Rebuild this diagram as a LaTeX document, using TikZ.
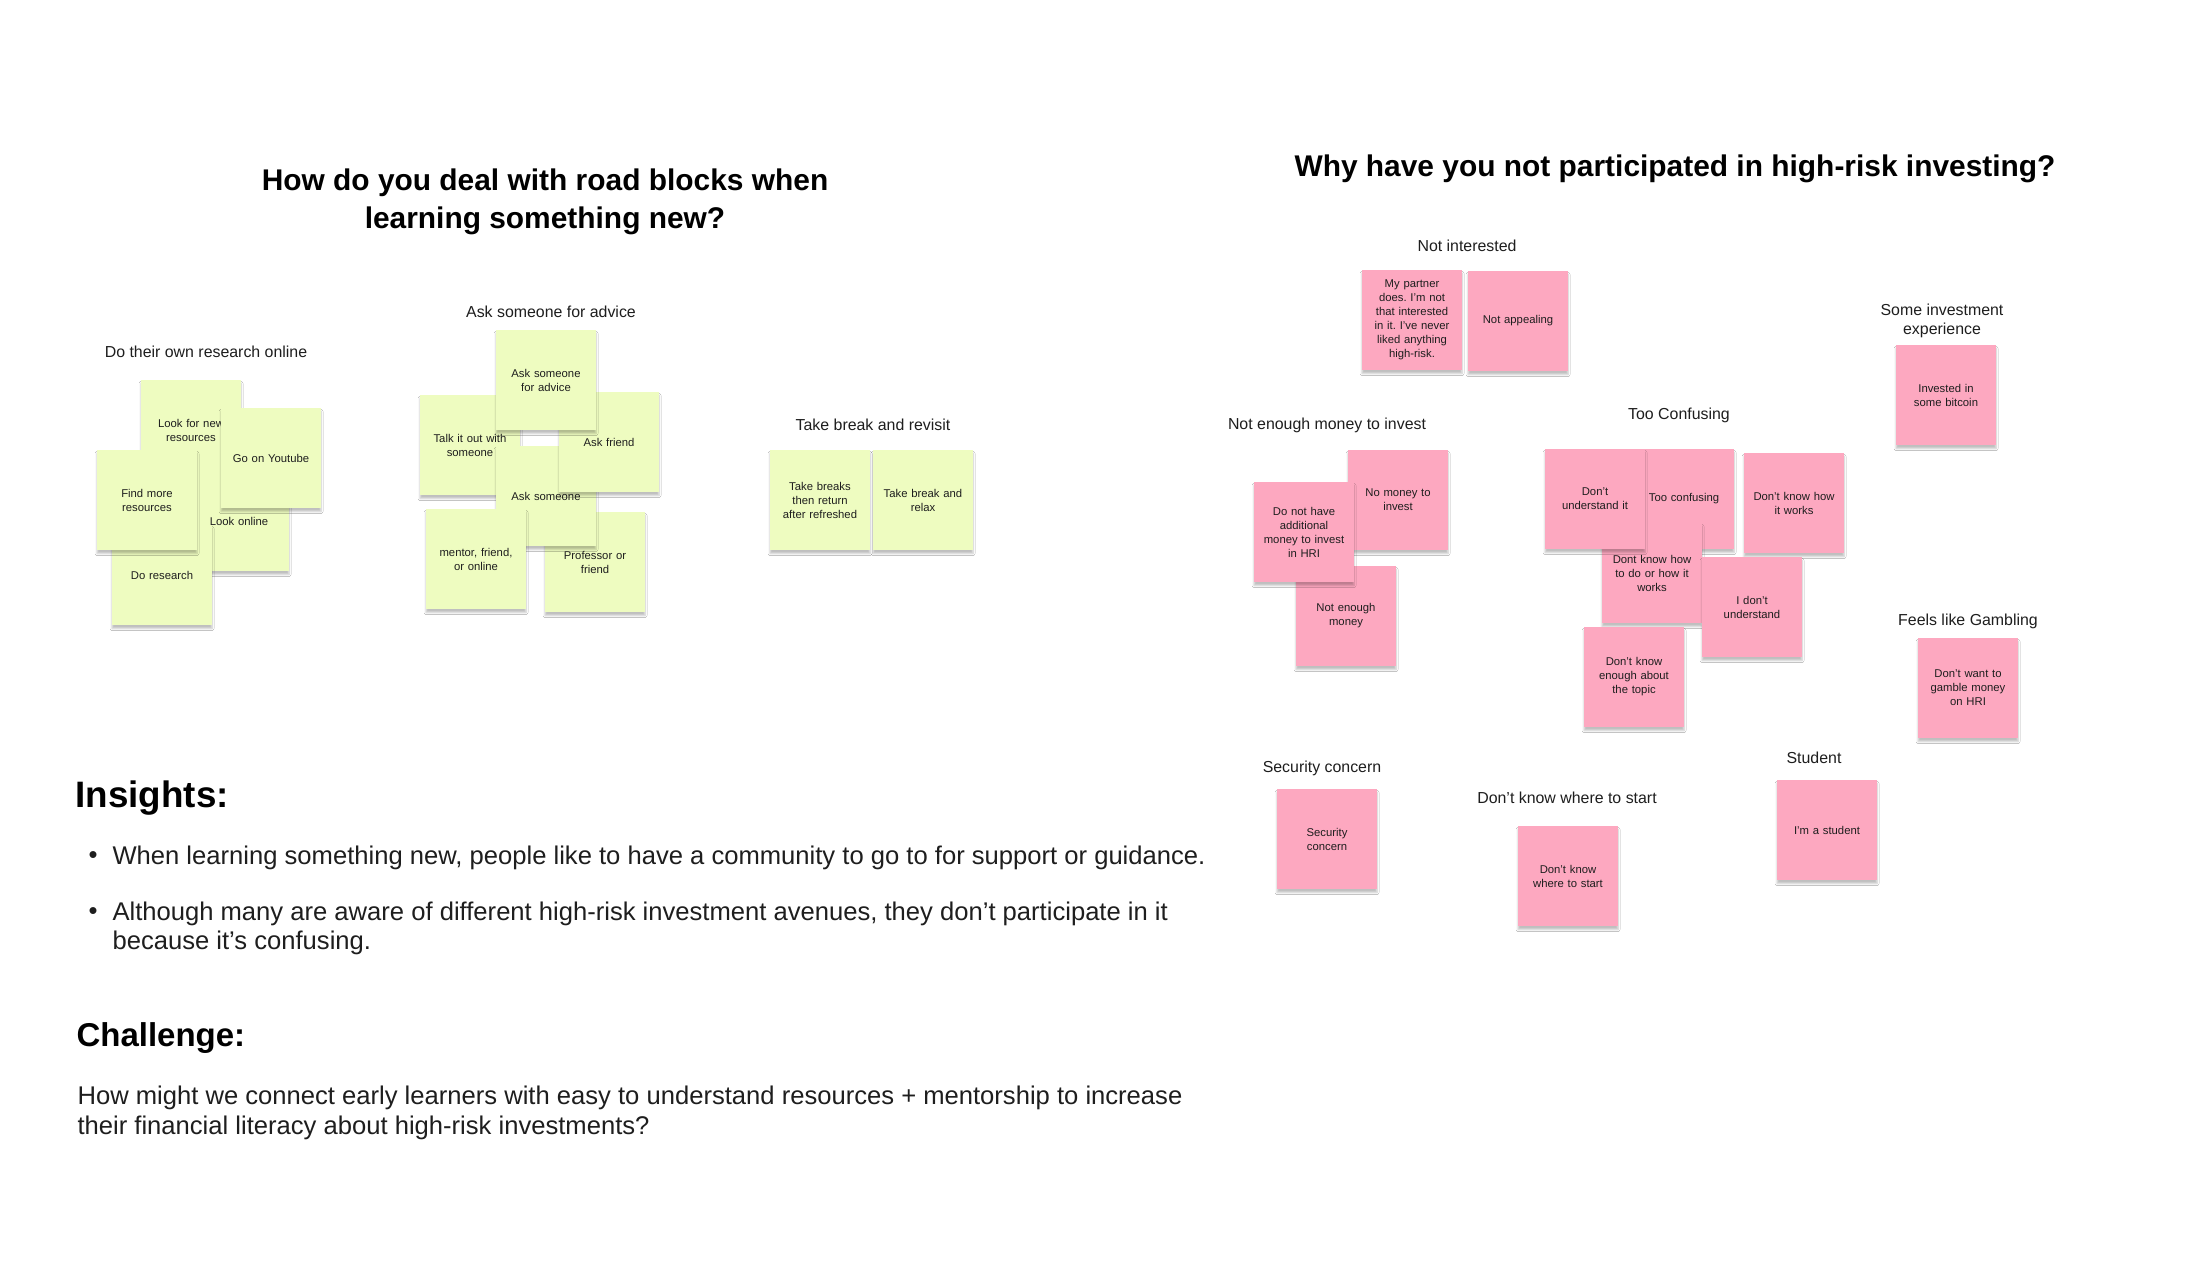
\documentclass[tikz,border=0pt]{standalone}
\usepackage{fontspec}
\setmainfont{Liberation Sans}
\usetikzlibrary{positioning,shadows.blur}
\frenchspacing

\definecolor{notegreen}{HTML}{EEFCC0}
\definecolor{notepink}{HTML}{FDA8C0}
\definecolor{ink}{HTML}{1E1E1E}

\tikzset{
  sticky/.style={rectangle, minimum width=100pt, minimum height=100pt,
    inner sep=0pt, text width=96pt, align=center, text=ink,
    font=\fontsize{11.3}{14}\selectfont,
    blur shadow={shadow xshift=0pt, shadow yshift=-3.5pt,
      shadow blur radius=2pt, shadow opacity=25}},
  greennote/.style={sticky, fill=notegreen},
  pinknote/.style={sticky, fill=notepink},
  grouplabel/.style={font=\fontsize{15.9}{19}\selectfont, text=ink, align=center},
  question/.style={font=\bfseries\fontsize{29.9}{38}\selectfont, align=center},
  heading/.style={font=\bfseries\fontsize{36.8}{40}\selectfont, anchor=west},
  bodytext/.style={font=\fontsize{25.6}{29}\selectfont, text=ink, align=left, anchor=west}
}

\begin{document}
\begin{tikzpicture}[x=1pt, y=1pt]
      % Page
      \useasboundingbox (0,0) rectangle (2188,-1265);
      \fill[white] (0,0) rectangle (2188,-1265);

      % Questions
      \node[question] (qLearn) at (545,-202) {How do you deal with road blocks when\\learning something new?};
      \node[question] (qRisk) at (1675,-169) {Why have you not participated in high-risk investing?};

      % Do their own research online
      \node[grouplabel] (lblResearch) at (206,-352) {Do their own research online};
      \node[greennote] (lookNew) at (191,-430) {Look for new\\resources};
      \node[greennote] (lookOnline) at (239,-521) {Look online};
      \node[greennote] (doResearch) at (162,-575) {Do research};
      \node[greennote] (findMore) at (147,-500) {Find more\\resources};
      \node[greennote] (youtube) at (271,-458) {Go on Youtube};

      % Ask someone for advice
      \node[grouplabel] (lblAsk) at (551,-312) {Ask someone for advice};
      \node[greennote] (professor) at (595,-562) {Professor or\\friend};
      \node[greennote] (talkOut) at (470,-445) {Talk it out with\\someone};
      \node[greennote] (askSomeone) at (546,-496) {Ask someone};
      \node[greennote] (mentor) at (476,-559) {mentor, friend,\\or online};
      \node[greennote] (askFriend) at (609,-442) {Ask friend};
      \node[greennote] (askAdvice) at (546,-380) {Ask someone\\for advice};

      % Take break and revisit
      \node[grouplabel] (lblBreak) at (873,-425) {Take break and revisit};
      \node[greennote] (breakReturn) at (820,-500) {Take breaks\\then return\\after refreshed};
      \node[greennote] (breakRelax) at (923,-500) {Take break and\\relax};

      % Not interested
      \node[grouplabel] (lblNotInt) at (1467,-246) {Not interested};
      \node[pinknote] (partner) at (1412,-320) {My partner\\does. I'm not\\that interested\\in it. I've never\\liked anything\\high-risk.};
      \node[pinknote] (appealing) at (1518,-321) {Not appealing};

      % Not enough money to invest
      \node[grouplabel] (lblMoney) at (1327,-425) {Not enough money to invest};
      \node[pinknote] (noMoney) at (1398,-500) {No money to\\invest};
      \node[pinknote] (notEnough) at (1346,-616) {Not enough\\money};
      \node[pinknote] (noExtra) at (1304,-532) {Do not have\\additional\\money to invest\\in HRI};

      % Too Confusing
      \node[grouplabel] (lblConf) at (1679,-415) {Too Confusing};
      \node[pinknote] (tooConf) at (1684,-499) {Too confusing};
      \node[pinknote] (howToDo) at (1652,-573) {Dont know how\\to do or how it\\works};
      \node[pinknote] (notUnderstand) at (1595,-499) {Don’t\\understand it};
      \node[pinknote] (howWorks) at (1794,-503) {Don’t know how\\it works};
      \node[pinknote] (iDont) at (1752,-607) {I don’t\\understand};
      \node[pinknote] (topic) at (1634,-677) {Don’t know\\enough about\\the topic};

      % Some investment experience
      \node[grouplabel] (lblExp) at (1942,-321) {Some investment\\experience};
      \node[pinknote] (bitcoin) at (1946,-395) {Invested in\\some bitcoin};

      % Feels like Gambling
      \node[grouplabel] (lblGamble) at (1968,-621) {Feels like Gambling};
      \node[pinknote] (gamble) at (1968,-688) {Don’t want to\\gamble money\\on HRI};

      % Security concern
      \node[grouplabel] (lblSecure) at (1322,-768) {Security concern};
      \node[pinknote] (secure) at (1327,-839) {Security\\concern};

      % Don't know where to start
      \node[grouplabel] (lblStart) at (1567,-798) {Don’t know where to start};
      \node[pinknote] (start) at (1568,-876) {Don’t know\\where to start};

      % Student
      \node[grouplabel] (lblStudent) at (1814,-758) {Student};
      \node[pinknote] (student) at (1827,-830) {I’m a student};

      % Insights
      \node[heading] (insights) at (72,-798) {Insights:};
      \node[bodytext] (dotOne) at (85,-858) {•};
      \node[bodytext] (insightOne) at (109,-858) {When learning something new, people like to have a community to go to for support or guidance.};
      \node[bodytext] (dotTwo) at (85,-914) {•};
      \node[bodytext] (insightTwo) at (109,-928.5) {Although many are aware of different high-risk investment avenues, they don’t participate in it\\because it’s confusing.};

      % Challenge
      \node[heading, font=\bfseries\fontsize{33}{38}\selectfont] (challenge) at (73,-1038) {Challenge:};
      \node[bodytext, font=\fontsize{25.6}{30}\selectfont] (hmw) at (74,-1113) {How might we connect early learners with easy to understand resources + mentorship to increase\\their financial literacy about high-risk investments?};
    \end{tikzpicture}
\end{document}
